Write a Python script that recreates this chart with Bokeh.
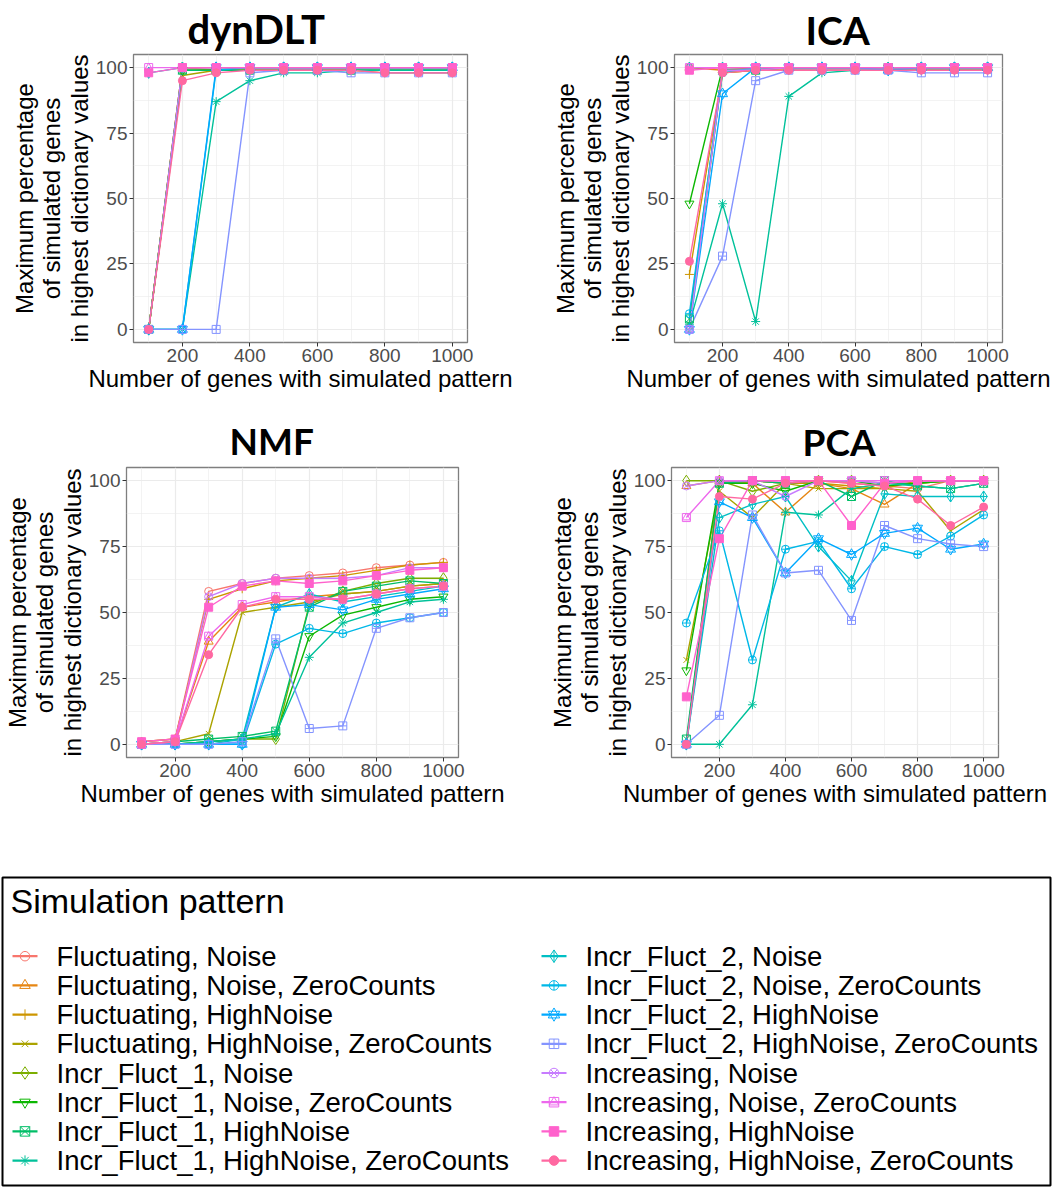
from bokeh.plotting import figure
from bokeh.layouts import column, row
from bokeh.models import FixedTicker, Range1d
from bokeh.core.properties import value
from bokeh.embed import file_html
from bokeh.resources import INLINE

# Number of genes carrying the simulated pattern
x_genes = [100, 200, 300, 400, 500, 600, 700, 800, 900, 1000]

patterns = [
    "Fluctuating, Noise",
    "Fluctuating, Noise, ZeroCounts",
    "Fluctuating, HighNoise",
    "Fluctuating, HighNoise, ZeroCounts",
    "Incr_Fluct_1, Noise",
    "Incr_Fluct_1, Noise, ZeroCounts",
    "Incr_Fluct_1, HighNoise",
    "Incr_Fluct_1, HighNoise, ZeroCounts",
    "Incr_Fluct_2, Noise",
    "Incr_Fluct_2, Noise, ZeroCounts",
    "Incr_Fluct_2, HighNoise",
    "Incr_Fluct_2, HighNoise, ZeroCounts",
    "Increasing, Noise",
    "Increasing, Noise, ZeroCounts",
    "Increasing, HighNoise",
    "Increasing, HighNoise, ZeroCounts",
]

# ggplot2 default hue palette for 16 levels
colors = ["#F8766D", "#E68613", "#CD9600", "#ABA300", "#7CAE00", "#0CB702",
          "#00BE67", "#00C19A", "#00BFC4", "#00B8E7", "#00A9FF", "#8494FF",
          "#C77CFF", "#ED68ED", "#FF61CC", "#FF68A1"]

# Maximum percentage of simulated genes in highest dictionary values, one row per pattern
dyndlt_pct = [
    [0, 100, 100, 100, 100, 100, 100, 100, 100, 100],
    [0, 100, 99, 99, 99, 99, 99, 99, 99, 99],
    [0, 99, 99, 99, 99, 99, 99, 98, 98, 98],
    [0, 97, 99, 99, 99, 99, 99, 99, 99, 99],
    [0, 100, 100, 100, 100, 100, 100, 100, 100, 100],
    [0, 99, 99, 100, 100, 100, 100, 100, 100, 100],
    [0, 99, 99, 99, 99, 99, 99, 99, 99, 99],
    [0, 0, 87, 95, 98, 98, 99, 99, 99, 99],
    [98, 100, 100, 100, 100, 100, 100, 100, 100, 100],
    [0, 0, 99, 100, 100, 100, 100, 100, 100, 100],
    [0, 0, 100, 100, 100, 100, 100, 100, 100, 100],
    [0, 0, 0, 98, 99, 99, 98, 98, 98, 98],
    [0, 100, 100, 100, 100, 100, 100, 100, 100, 100],
    [100, 100, 100, 100, 100, 100, 100, 100, 100, 100],
    [98, 100, 100, 100, 100, 100, 100, 100, 100, 100],
    [0, 95, 98, 99, 99, 99, 99, 98, 98, 98],
]

ica_pct = [
    [100, 100, 100, 100, 100, 100, 100, 100, 100, 100],
    [100, 99, 100, 100, 100, 100, 100, 100, 100, 100],
    [21, 98, 99, 99, 99, 99, 99, 99, 99, 99],
    [2, 98, 99, 99, 99, 99, 99, 99, 99, 99],
    [1, 99, 99, 100, 100, 100, 100, 100, 100, 100],
    [48, 100, 100, 100, 100, 100, 100, 100, 100, 100],
    [4, 99, 99, 100, 100, 100, 100, 100, 100, 100],
    [2, 48, 3, 89, 98, 99, 99, 99, 99, 99],
    [100, 100, 100, 100, 100, 100, 100, 100, 100, 100],
    [6, 98, 100, 100, 100, 100, 100, 100, 100, 100],
    [0, 90, 100, 100, 100, 100, 99, 100, 100, 100],
    [0, 28, 95, 99, 99, 99, 99, 98, 98, 98],
    [0, 99, 99, 100, 100, 100, 100, 100, 100, 100],
    [100, 100, 100, 100, 100, 100, 100, 100, 100, 100],
    [99, 100, 100, 100, 100, 100, 100, 100, 100, 100],
    [26, 98, 99, 99, 99, 99, 99, 99, 99, 99],
]

nmf_pct = [
    [1, 2, 58, 61, 63, 64, 65, 67, 68, 69],
    [0, 1, 39, 52, 54, 56, 57, 58, 60, 61],
    [1, 2, 55, 59, 62, 63, 64, 66, 68, 69],
    [0, 1, 4, 50, 52, 54, 57, 58, 60, 61],
    [0, 0, 1, 2, 2, 53, 58, 61, 63, 63],
    [0, 0, 1, 2, 3, 41, 49, 52, 55, 56],
    [0, 1, 2, 3, 5, 52, 58, 60, 62, 61],
    [0, 0, 1, 2, 4, 33, 46, 50, 54, 55],
    [0, 0, 0, 2, 52, 57, 54, 56, 58, 60],
    [0, 0, 0, 0, 38, 44, 42, 46, 48, 50],
    [0, 0, 0, 0, 52, 53, 51, 55, 57, 59],
    [0, 0, 0, 1, 40, 6, 7, 44, 48, 50],
    [0, 1, 56, 61, 63, 63, 63, 64, 67, 67],
    [0, 1, 41, 53, 56, 56, 55, 57, 59, 60],
    [1, 2, 52, 60, 62, 61, 62, 64, 66, 67],
    [0, 1, 34, 52, 55, 55, 55, 57, 59, 60],
]

pca_pct = [
    [0, 99, 100, 99, 100, 99, 98, 97, 100, 100],
    [98, 100, 99, 88, 99, 97, 91, 99, 100, 100],
    [0, 100, 100, 99, 99, 98, 97, 100, 100, 100],
    [32, 96, 86, 99, 97, 97, 97, 96, 81, 89],
    [100, 100, 96, 99, 100, 100, 99, 99, 100, 100],
    [28, 99, 99, 96, 100, 100, 98, 99, 100, 100],
    [2, 99, 100, 99, 100, 94, 100, 98, 97, 99],
    [0, 0, 15, 88, 87, 97, 99, 98, 97, 99],
    [0, 86, 91, 94, 75, 62, 95, 94, 94, 94],
    [46, 81, 32, 74, 77, 59, 75, 72, 79, 87],
    [0, 92, 86, 65, 78, 72, 80, 82, 74, 76],
    [0, 11, 87, 65, 66, 47, 83, 78, 76, 75],
    [98, 100, 100, 94, 100, 100, 99, 100, 100, 100],
    [86, 100, 100, 100, 100, 100, 100, 100, 100, 100],
    [18, 78, 100, 100, 100, 83, 99, 100, 100, 100],
    [0, 94, 93, 99, 100, 99, 98, 93, 83, 90],
]

x_ticks = [200, 400, 600, 800, 1000]
x_minor = [100, 300, 500, 700, 900]
y_ticks = [0, 25, 50, 75, 100]
y_minor = [12.5, 37.5, 62.5, 87.5]

# Point shapes (ggplot shapes 1..16 rebuilt from Bokeh markers), size, filled
shapes = [
    (["circle"], 8, False),
    (["triangle"], 9, False),
    (["cross"], 9, False),
    (["x"], 8, False),
    (["diamond"], 11, False),
    (["inverted_triangle"], 9, False),
    (["square_x"], 8, False),
    (["asterisk"], 9, False),
    (["diamond_cross"], 11, False),
    (["circle_cross"], 8, False),
    (["triangle", "inverted_triangle"], 10, False),
    (["square_cross"], 8, False),
    (["circle_x"], 8, False),
    (["square", "triangle"], 8, False),
    (["square"], 8, True),
    (["circle"], 8, True),
]

Y_LABEL = "Maximum percentage\nof simulated genes\nin highest dictionary values"
X_LABEL = "Number of genes with simulated pattern"
BODY_FONT = "Liberation Sans"


def make_panel(name, values, width, height, left, right, top, bottom,
               title_offset, title_standoff, title_size):
    p = figure(width=width, height=height,
               x_range=Range1d(55, 1045), y_range=Range1d(-5, 105),
               output_backend="svg", toolbar_location=None,
               min_border_left=left, min_border_right=right,
               min_border_top=top, min_border_bottom=bottom,
               background_fill_color="white", border_fill_color="white",
               outline_line_color="#7F7F7F", outline_line_width=1.3)
    p.title.text = name
    p.title.align = "left"
    p.title.offset = title_offset
    p.title.standoff = title_standoff
    p.title.text_font = "Lato"
    p.title.text_font_style = "bold"
    p.title.text_font_size = title_size
    p.title.text_color = "black"

    xt = FixedTicker(ticks=x_ticks, minor_ticks=x_minor)
    yt = FixedTicker(ticks=y_ticks, minor_ticks=y_minor)
    p.xaxis.ticker = xt
    p.yaxis.ticker = yt
    p.xgrid.ticker = xt
    p.ygrid.ticker = yt
    for g in (p.xgrid, p.ygrid):
        g.grid_line_color = "#EBEBEB"
        g.grid_line_width = 1.2
        g.minor_grid_line_color = "#EBEBEB"
        g.minor_grid_line_width = 0.6

    for ax in (p.xaxis, p.yaxis):
        ax.axis_line_color = None
        ax.major_tick_line_color = "#333333"
        ax.major_tick_out = 4
        ax.major_tick_in = 0
        ax.minor_tick_line_color = None
        ax.major_label_text_font = BODY_FONT
        ax.major_label_text_font_size = "19px"
        ax.major_label_text_color = "#4D4D4D"
        ax.major_label_standoff = 2
        ax.axis_label_text_font = BODY_FONT
        ax.axis_label_text_font_size = "24px"
        ax.axis_label_text_font_style = "normal"
        ax.axis_label_text_color = "black"
    p.xaxis.axis_label = X_LABEL
    p.xaxis.axis_label_standoff = 0
    p.yaxis.axis_label = Y_LABEL
    p.yaxis.axis_label_standoff = 0
    p.yaxis.axis_label_text_line_height = 1.02

    # lines first, then points on top
    for i, ys in enumerate(values):
        p.line(x_genes, ys, line_color=colors[i], line_width=1.4)
    for i, ys in enumerate(values):
        markers, size, filled = shapes[i]
        for m in markers:
            p.scatter(x_genes, ys, marker=m, size=size, line_color=colors[i],
                      line_width=1, fill_color=colors[i] if filled else None)
    return p


p_dyn = make_panel("dynDLT", dyndlt_pct, 520, 400, 133, 53, 50, 58, 54, 4, "40px")
p_ica = make_panel("ICA", ica_pct, 532, 400, 154, 50, 50, 58, 131, 4, "39px")
p_nmf = make_panel("NMF", nmf_pct, 520, 410, 126, 62, 67, 51, 103, 10, "37px")
p_pca = make_panel("PCA", pca_pct, 532, 410, 151, 54, 64, 53, 131, 8, "37px")

# Key panel: a boxed area whose data units equal pixels of the frame
KEY_W, KEY_H = 1048, 308
leg_fig = figure(width=1052, height=377,
                 x_range=Range1d(0, KEY_W), y_range=Range1d(0, KEY_H),
                 output_backend="svg", toolbar_location=None,
                 x_axis_location=None, y_axis_location=None,
                 min_border_left=2, min_border_right=2,
                 min_border_top=67, min_border_bottom=2,
                 outline_line_color="black", outline_line_width=2,
                 background_fill_color="white", border_fill_color="white")
leg_fig.grid.visible = False

leg_fig.text(x=[8], y=[KEY_H - 23], text=["Simulation pattern"],
             text_font=value(BODY_FONT), text_font_size="34px",
             text_color="black", text_align="left", text_baseline="middle")

ROW_TOP = KEY_H - 78.7   # centre of the first key row
ROW_STEP = 29.2
COL_LEFT = [10, 539]     # left end of the key line in each column
KEY_LEN = 25
LABEL_GAP = 19

for i, name in enumerate(patterns):
    col, r = divmod(i, 8)
    ky = ROW_TOP - r * ROW_STEP
    kx0 = COL_LEFT[col]
    kx1 = kx0 + KEY_LEN
    kxm = (kx0 + kx1) / 2
    c = colors[i]
    markers, size, filled = shapes[i]
    leg_fig.segment(x0=[kx0], y0=[ky], x1=[kx1], y1=[ky], line_color=c, line_width=2.2)
    for m in markers:
        leg_fig.scatter(x=[kxm], y=[ky], marker=m, size=size + 1.5, line_color=c,
                        line_width=1, fill_color=c if filled else None)
    leg_fig.text(x=[kx1 + LABEL_GAP], y=[ky], text=[name],
                 text_font=value(BODY_FONT), text_font_size="27.5px",
                 text_color="black", text_align="left", text_baseline="middle")

layout = column(row(p_dyn, p_ica), row(p_nmf, p_pca), leg_fig)

with open("out.html", "w") as f:
    f.write(file_html(layout, INLINE))
